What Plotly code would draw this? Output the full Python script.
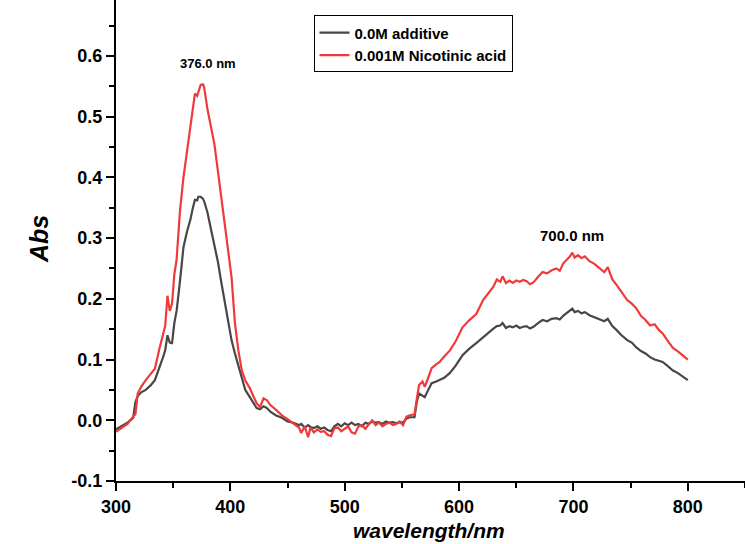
import plotly.graph_objects as go

wavelength = [300, 305, 310, 315, 317, 319, 322, 326, 330, 334, 338, 341, 343, 345, 347, 349, 351, 353, 356, 359,
              362, 365, 367, 369, 371, 372, 374, 376, 377, 380, 383, 386, 389, 392, 395, 398, 401, 404, 407, 410,
              413, 417, 420, 423, 426, 429, 432, 435, 440, 445, 450, 455, 460, 462, 465, 468, 470, 473, 476, 479,
              482, 485, 488, 491, 494, 497, 500, 503, 506, 509, 512, 515, 518, 521, 524, 527, 530, 533, 536, 539,
              542, 545, 548, 551, 554, 557, 561, 563, 565, 568, 570, 573, 576, 580, 583, 587, 592, 597, 603, 609,
              615, 621, 626, 630, 633, 636, 638, 641, 644, 647, 650, 653, 656, 659, 662, 665, 669, 673, 677, 681,
              685, 688, 691, 694, 697, 699, 701, 704, 707, 710, 714, 718, 723, 727, 730, 734, 738, 742, 747, 751,
              755, 759, 763, 767, 771, 775, 778, 782, 787, 791, 795, 798, 800]

abs_additive = [-0.015, -0.010, -0.004, 0.004, 0.030, 0.040, 0.046, 0.050, 0.057, 0.066, 0.086, 0.103, 0.115, 0.140, 0.128, 0.127, 0.160, 0.180, 0.230, 0.285,
                0.310, 0.330, 0.348, 0.363, 0.362, 0.368, 0.368, 0.365, 0.361, 0.342, 0.315, 0.290, 0.262, 0.228, 0.198, 0.168, 0.132, 0.110, 0.090, 0.066,
                0.050, 0.038, 0.028, 0.020, 0.018, 0.023, 0.020, 0.014, 0.008, 0.004, -0.002, -0.004, -0.008, -0.006, -0.012, -0.008, -0.011, -0.013, -0.010, -0.014,
                -0.012, -0.016, -0.018, -0.010, -0.006, -0.010, -0.005, -0.008, -0.004, -0.008, -0.006, -0.010, -0.004, -0.006, -0.002, -0.004, -0.003, -0.006, -0.002, -0.004,
                -0.003, -0.005, -0.003, -0.004, 0.003, 0.005, 0.005, 0.030, 0.044, 0.040, 0.038, 0.050, 0.061, 0.064, 0.066, 0.070, 0.078, 0.090, 0.107, 0.118,
                0.127, 0.137, 0.145, 0.151, 0.155, 0.156, 0.160, 0.152, 0.155, 0.153, 0.156, 0.152, 0.154, 0.155, 0.151, 0.154, 0.160, 0.165, 0.163, 0.167,
                0.168, 0.166, 0.172, 0.176, 0.180, 0.184, 0.178, 0.180, 0.176, 0.178, 0.173, 0.170, 0.165, 0.163, 0.167, 0.155, 0.148, 0.140, 0.132, 0.128,
                0.120, 0.114, 0.110, 0.104, 0.100, 0.098, 0.096, 0.090, 0.082, 0.078, 0.072, 0.069, 0.066]

abs_nicotinic = [-0.019, -0.013, -0.006, 0.006, 0.010, 0.044, 0.055, 0.066, 0.075, 0.085, 0.118, 0.140, 0.155, 0.205, 0.180, 0.192, 0.240, 0.265, 0.346, 0.400,
                 0.440, 0.480, 0.510, 0.538, 0.534, 0.540, 0.552, 0.553, 0.549, 0.512, 0.485, 0.455, 0.412, 0.370, 0.330, 0.280, 0.236, 0.160, 0.115, 0.082,
                 0.066, 0.053, 0.040, 0.028, 0.022, 0.036, 0.033, 0.025, 0.017, 0.008, 0.002, -0.005, -0.012, -0.021, -0.010, -0.028, -0.012, -0.020, -0.015, -0.019,
                 -0.018, -0.024, -0.026, -0.013, -0.012, -0.018, -0.014, -0.010, -0.020, -0.022, -0.010, -0.008, -0.014, -0.006, 0.000, -0.008, -0.004, -0.010, -0.006, -0.004,
                 -0.008, -0.006, -0.002, -0.008, 0.006, 0.008, 0.010, 0.035, 0.058, 0.064, 0.055, 0.070, 0.086, 0.092, 0.096, 0.105, 0.115, 0.130, 0.153, 0.165,
                 0.175, 0.198, 0.210, 0.220, 0.232, 0.228, 0.237, 0.226, 0.230, 0.226, 0.230, 0.228, 0.231, 0.229, 0.224, 0.227, 0.236, 0.244, 0.242, 0.247,
                 0.250, 0.246, 0.258, 0.264, 0.270, 0.276, 0.268, 0.272, 0.267, 0.270, 0.262, 0.258, 0.250, 0.244, 0.252, 0.232, 0.222, 0.212, 0.198, 0.192,
                 0.184, 0.172, 0.165, 0.156, 0.158, 0.148, 0.143, 0.132, 0.119, 0.114, 0.108, 0.103, 0.100]

series_names = ["0.0M additive", "0.001M Nicotinic acid"]
peak_labels = ["376.0 nm", "700.0 nm"]
x_ticks = [300, 400, 500, 600, 700, 800]
y_ticks = [-0.1, 0.0, 0.1, 0.2, 0.3, 0.4, 0.5, 0.6]

FONT = "Liberation Sans, Arial, sans-serif"

fig = go.Figure()
fig.add_trace(go.Scatter(x=wavelength, y=abs_additive, mode="lines", name=series_names[0],
                         line=dict(color="#474747", width=2.2)))
fig.add_trace(go.Scatter(x=wavelength, y=abs_nicotinic, mode="lines", name=series_names[1],
                         line=dict(color="#f03a3a", width=2.2)))

axis_common = dict(showgrid=False, zeroline=False, showline=True, linecolor="black", linewidth=2,
                   ticks="outside", ticklen=8, tickwidth=2, tickcolor="black",
                   tickfont=dict(family=FONT, size=18, color="black", weight="bold"))

fig.update_xaxes(range=[300, 850], tickvals=x_ticks, ticktext=[str(v) for v in x_ticks],
                 minor=dict(ticks="outside", ticklen=5, tickwidth=2, tickcolor="black", dtick=50, tick0=300),
                 **axis_common)
fig.update_yaxes(range=[-0.1, 0.692], tickvals=y_ticks, ticktext=[f"{v:.1f}" for v in y_ticks],
                 minor=dict(ticks="outside", ticklen=5, tickwidth=2, tickcolor="black", dtick=0.05, tick0=-0.1),
                 **axis_common)

fig.add_annotation(x=380.4, y=0.587, text=peak_labels[0], showarrow=False,
                   font=dict(family=FONT, size=13, color="black", weight="bold"))
fig.add_annotation(x=698.7, y=0.305, text=peak_labels[1], showarrow=False,
                   font=dict(family=FONT, size=15, color="black", weight="bold"))
fig.add_annotation(x=0.497, y=-0.131, xref="paper", yref="paper", text="<i>wavelength/nm</i>", showarrow=False,
                   font=dict(family=FONT, size=21, color="black", weight="bold"), yanchor="bottom")
fig.add_annotation(x=-0.148, y=0.503, xref="paper", yref="paper", text="<i>Abs</i>", showarrow=False,
                   textangle=-90, font=dict(family=FONT, size=25, color="black", weight="bold"))

fig.update_layout(
    width=745, height=544,
    margin=dict(l=116, r=0, t=0, b=63),
    paper_bgcolor="white", plot_bgcolor="white",
    showlegend=True,
    legend=dict(x=0.314, y=0.968, xanchor="left", yanchor="top", bgcolor="white",
                bordercolor="black", borderwidth=1, tracegroupgap=0, itemwidth=30,
                font=dict(family=FONT, size=15, color="black", weight="bold")),
)

fig.write_html("out.html")
